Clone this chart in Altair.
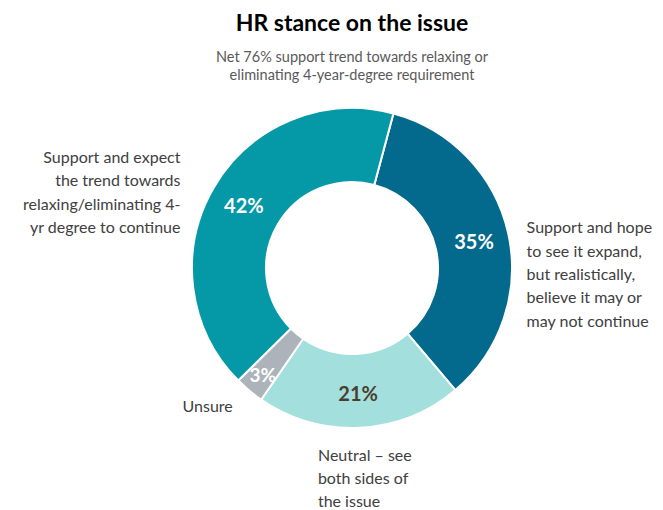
import math
import altair as alt
import pandas as pd

# ---- data ----
categories = ["Support, hope it expands", "Neutral", "Unsure", "Support, expect it to continue"]
values = [35, 21, 3, 42]
pct_labels = ["35%", "21%", "3%", "42%"]
outer_labels = [
    "Support and hope\nto see it expand,\nbut realistically,\nbelieve it may or\nmay not continue",
    "Neutral – see\nboth sides of\nthe issue",
    "Unsure",
    "Support and expect\nthe trend towards\nrelaxing/eliminating 4-\nyr degree to continue",
]
colors = ["#046A8D", "#A3E0DD", "#ADB3BA", "#0599A8"]

df = pd.DataFrame({
    "category": categories,
    "value": values,
    "pct": pct_labels,
    "outer": outer_labels,
    "idx": list(range(len(categories))),
})

start = math.radians(15)
theta = alt.Theta("value:Q", stack=True, scale=alt.Scale(range=[start, start + 2 * math.pi]))
order = alt.Order("idx:Q", sort="ascending")
FONT = "Lato"

base = alt.Chart(df)

arcs = base.mark_arc(outerRadius=160, innerRadius=86, stroke="white", strokeWidth=2).encode(
    theta=theta,
    order=order,
    color=alt.Color("category:N", scale=alt.Scale(domain=categories, range=colors), legend=None),
)

pct_main = base.mark_text(radius=125, dy=2, font=FONT, fontSize=20, fontWeight="bold").encode(
    theta=theta,
    order=order,
    text=alt.condition(alt.datum.category != "Unsure", alt.Text("pct:N"), alt.value("")),
    color=alt.condition(alt.datum.category == "Neutral", alt.value("#4A3F2F"), alt.value("#FFFFFF")),
)

pct_small = base.mark_text(radius=139, dy=1, font=FONT, fontSize=19, fontWeight="bold", color="#FFFFFF").encode(
    theta=theta,
    order=order,
    text=alt.condition(alt.datum.category == "Unsure", alt.Text("pct:N"), alt.value("")),
)

label_style = [
    # (category, align, dx, dy)
    (categories[0], "left", -2, -8),
    (categories[1], "left", -43, -1),
    (categories[2], "right", -3, -8),
    (categories[3], "right", -15, -27),
]

outer_layers = []
for cat, align, dx, dy in label_style:
    outer_layers.append(
        base.mark_text(radius=181, align=align, baseline="top", dx=dx, dy=dy,
                       lineBreak="\n", lineHeight=23.3, font=FONT, fontSize=16,
                       color="#404040").encode(
            theta=theta,
            order=order,
            text=alt.condition(alt.datum.category == cat, alt.Text("outer:N"), alt.value("")),
        )
    )

chart = alt.layer(arcs, pct_main, pct_small, *outer_layers).properties(
    width=606,
    height=348,
    autosize=alt.AutoSizeParams(type="none"),
    padding={"left": 41, "top": 86, "right": 0, "bottom": 68},
    title=alt.TitleParams(
        text="HR stance on the issue",
        subtitle=["Net 76% support trend towards relaxing or", "eliminating 4-year-degree requirement"],
        font=FONT, fontSize=23, fontWeight="bold", color="#000000",
        subtitleFont=FONT, subtitleFontSize=14.5, subtitleColor="#595959",
        subtitleLineHeight=18, subtitlePadding=15,
        anchor="middle", offset=12,
    ),
).configure_view(stroke=None)

chart.save("out.html", embed_options={"renderer": "svg", "actions": False})
